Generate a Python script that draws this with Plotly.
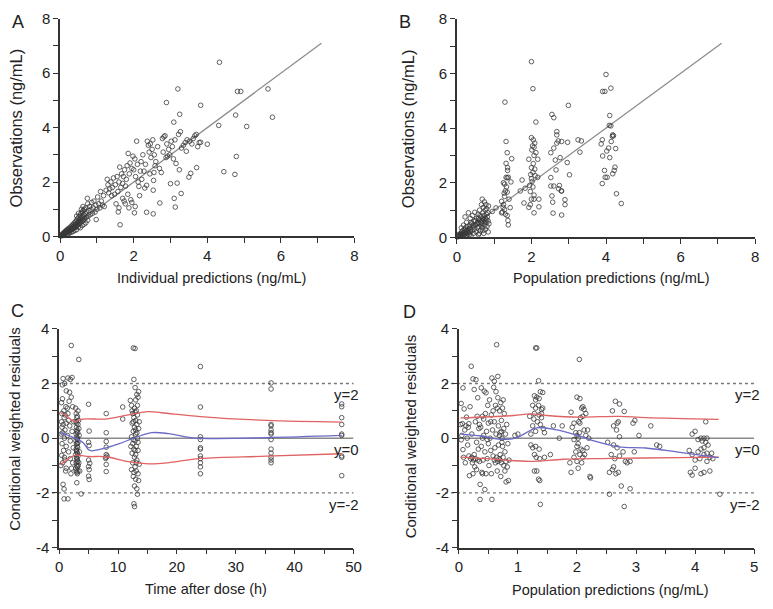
import plotly.graph_objects as go

# ---------------- DATA ----------------
# Panel A: individual predictions vs observations (ng/mL)
pts_A = [
    [0.02,0.02],[0.03,0.05],[0.05,0.03],[0.06,0.08],[0.07,0.05],[0.08,0.11],[0.09,0.07],[0.1,0.13],[0.11,0.09],[0.12,0.16],
    [0.13,0.1],[0.14,0.12],[0.15,0.2],[0.16,0.13],[0.17,0.17],[0.18,0.24],[0.19,0.15],[0.2,0.2],[0.21,0.27],[0.22,0.16],
    [0.23,0.22],[0.24,0.3],[0.25,0.19],[0.26,0.25],[0.27,0.33],[0.28,0.22],[0.29,0.28],[0.3,0.37],[0.31,0.24],[0.32,0.31],
    [0.33,0.42],[0.34,0.27],[0.35,0.35],[0.36,0.45],[0.37,0.3],[0.38,0.38],[0.39,0.5],[0.4,0.33],[0.41,0.42],[0.42,0.55],
    [0.43,0.36],[0.44,0.46],[0.45,0.6],[0.46,0.4],[0.47,0.5],[0.48,0.66],[0.49,0.44],[0.5,0.55],[0.51,0.72],[0.52,0.47],
    [0.53,0.6],[0.54,0.78],[0.55,0.5],[0.56,0.65],[0.57,0.85],[0.58,0.55],[0.59,0.7],[0.6,0.9],[0.61,0.58],[0.62,0.75],
    [0.63,0.95],[0.64,0.62],[0.65,0.8],[0.66,1.0],[0.67,0.66],[0.68,0.85],[0.7,1.05],[0.71,0.7],[0.72,0.9],[0.74,1.4],
    [0.75,1.2],[0.76,0.75],[0.78,0.95],[0.8,1.1],[0.82,0.8],[0.84,1.0],[0.86,1.25],[0.88,0.85],[0.9,1.05],[0.92,1.3],
    [0.95,0.9],[0.97,1.15],[0.98,0.62],[1.0,1.0],[1.02,1.45],[1.05,1.2],[1.08,1.05],[1.1,1.65],[1.12,1.3],[1.15,1.15],
    [1.18,1.5],[1.2,1.1],[0.3,0.15],[0.35,0.18],[0.4,0.22],[0.45,0.25],[0.5,0.35],[0.55,0.32],[0.6,0.4],[0.65,0.45],
    [0.25,0.12],[0.2,0.08],[0.15,0.05],[0.1,0.04],[0.58,1.0],[0.62,1.1],[0.5,0.85],[0.45,0.75],[0.7,0.5],[0.75,0.6],
    [1.25,1.7],[1.28,2.1],[1.3,1.9],[1.32,1.6],[1.35,1.75],[1.38,2.0],[1.4,1.5],[1.42,1.8],[1.45,2.15],[1.48,1.55],
    [1.5,1.9],[1.52,1.2],[1.55,2.2],[1.57,1.65],[1.58,0.9],[1.6,1.05],[1.6,2.0],[1.62,2.55],[1.63,0.43],[1.65,1.8],
    [1.67,2.3],[1.7,1.95],[1.7,1.4],[1.72,2.2],[1.74,1.3],[1.75,2.45],[1.77,1.2],[1.78,1.85],[1.8,2.1],[1.82,2.6],
    [1.84,1.55],[1.85,3.05],[1.87,1.05],[1.88,2.3],[1.9,2.7],[1.92,1.35],[1.95,1.25],[1.95,2.5],[1.98,2.95],[2.0,2.45],
    [2.02,0.87],[2.03,2.85],[2.04,1.1],[2.05,2.2],[2.08,3.5],[2.1,2.65],[2.12,2.0],[2.14,1.84],[2.16,1.5],[2.18,2.4],
    [2.2,2.75],[2.22,2.1],[2.25,3.0],[2.28,2.4],[2.3,1.78],[2.32,2.65],[2.35,1.88],[2.35,0.89],[2.37,3.5],[2.4,3.35],
    [2.42,3.1],[2.44,2.3],[2.45,3.4],[2.47,2.9],[2.5,3.2],[2.52,3.55],[2.53,1.7],[2.53,0.83],[2.54,2.06],[2.55,2.35],
    [2.56,3.0],[2.58,2.6],[2.6,2.75],[2.65,3.3],[2.7,2.5],[2.71,1.23],[2.75,2.35],[2.78,3.6],[2.8,3.1],[2.82,3.66],
    [2.85,3.7],[2.88,2.9],[2.89,4.92],[2.9,3.4],[2.92,2.95],[2.95,3.2],[2.98,3.0],[3.0,1.94],[3.02,3.5],[3.05,3.3],
    [3.08,2.85],[3.09,4.2],[3.1,1.4],[3.12,3.55],[3.13,1.08],[3.15,2.68],[3.18,1.96],[3.2,5.42],[3.22,3.75],[3.24,2.45],
    [3.25,4.49],[3.27,3.85],[3.29,1.58],[3.3,3.25],[3.35,3.35],[3.4,3.45],[3.43,3.13],[3.45,3.55],[3.5,2.18],[3.52,3.5],
    [3.55,2.32],[3.58,3.4],[3.62,3.6],[3.66,3.7],[3.7,3.75],[3.71,2.53],[3.74,3.3],[3.78,3.45],[3.82,4.82],[3.82,3.46],
    [4.0,3.39],[4.31,4.08],[4.33,6.40],[4.45,2.38],[4.75,2.28],[4.77,4.46],[4.79,2.94],[4.82,5.33],[4.91,5.33],[5.07,4.04],
    [5.65,5.42],[5.77,4.38],
]

# Panel B: population predictions vs observations (ng/mL)
pts_B = [
    [0.02,0.02],[0.03,0.06],[0.05,0.1],[0.06,0.04],[0.08,0.12],[0.09,0.07],[0.1,0.15],[0.11,0.05],[0.12,0.1],[0.13,0.2],
    [0.14,0.08],[0.15,0.13],[0.16,0.25],[0.17,0.1],[0.18,0.17],[0.19,0.05],[0.2,0.3],[0.21,0.12],[0.22,0.2],[0.23,0.35],
    [0.24,0.15],[0.25,0.25],[0.26,0.08],[0.27,0.4],[0.28,0.18],[0.29,0.28],[0.3,0.12],[0.31,0.9],[0.32,0.22],[0.33,0.33],
    [0.34,0.1],[0.35,0.45],[0.36,0.2],[0.37,0.3],[0.38,0.06],[0.4,0.5],[0.41,0.25],[0.42,0.8],[0.43,0.38],[0.45,0.15],
    [0.46,0.6],[0.47,0.3],[0.48,0.92],[0.5,0.45],[0.52,0.2],[0.53,0.7],[0.55,0.35],[0.56,0.55],[0.57,0.85],[0.58,0.1],
    [0.59,0.4],[0.6,0.65],[0.61,1.0],[0.62,0.5],[0.63,0.25],[0.64,0.75],[0.65,0.55],[0.66,1.2],[0.67,0.6],[0.68,1.4],
    [0.68,0.35],[0.69,0.7],[0.7,0.9],[0.7,0.5],[0.71,1.1],[0.72,0.65],[0.72,0.15],[0.73,0.8],[0.74,1.3],[0.74,0.45],
    [0.75,0.6],[0.76,1.0],[0.76,0.7],[0.77,0.3],[0.78,1.2],[0.78,0.55],[0.79,0.85],[0.8,0.65],[0.8,1.05],[0.81,0.4],
    [0.82,0.75],[0.83,0.9],[0.84,0.6],[0.85,1.15],[0.66,0.45],[0.62,0.8],[0.58,0.7],[0.54,0.5],[0.5,0.62],[0.44,0.45],
    [0.38,0.55],[0.36,0.7],[0.26,0.55],[0.22,0.75],[0.18,0.45],[0.12,0.35],[0.86,0.5],[0.84,0.2],[0.7,0.25],[0.6,0.15],
    [1.05,1.08],[0.95,0.95],
    [1.29,4.95],[1.32,3.51],[1.35,3.1],[1.47,2.88],[1.32,2.71],[1.36,2.55],[1.36,2.45],[1.32,2.2],[1.35,2.18],[1.38,2.2],
    [1.25,2.0],[1.28,1.95],[1.3,1.7],[1.27,1.62],[1.35,1.66],[1.28,1.5],[1.2,1.32],[1.25,1.2],[1.28,1.02],[1.22,0.93],
    [1.35,0.8],[1.37,0.62],[1.38,0.46],[1.43,1.09],[1.45,2.03],[1.2,0.9],[1.3,0.85],[1.4,1.4],[1.33,1.85],[1.24,1.1],
    [2.0,6.43],[2.04,5.44],[2.12,4.22],[2.0,3.65],[2.05,3.57],[2.09,3.45],[2.03,3.35],[2.07,3.3],[2.01,3.2],[2.12,3.1],
    [2.07,3.0],[1.93,2.86],[2.17,2.86],[2.0,2.55],[2.09,2.5],[2.04,2.38],[2.1,2.26],[2.0,2.15],[2.17,2.2],[1.95,1.9],
    [2.04,1.85],[1.97,1.68],[2.07,1.55],[2.0,1.4],[1.97,1.2],[1.93,1.1],[2.07,1.4],[2.07,0.9],[2.2,1.4],[2.2,1.12],
    [1.83,1.8],[1.8,1.26],[2.02,2.05],[2.05,2.7],[1.98,2.3],[1.75,2.1],[1.7,1.7],
    [2.55,4.5],[2.6,4.38],[2.68,3.87],[2.68,3.75],[2.72,3.53],[2.68,3.45],[2.81,3.51],[2.52,3.1],[2.6,3.27],[2.64,2.83],
    [2.77,2.92],[2.66,2.47],[2.52,2.19],[2.6,1.88],[2.75,1.9],[2.73,1.78],[2.8,1.7],[2.52,1.88],[2.55,1.52],[2.57,1.29],
    [2.9,1.38],[2.9,1.2],[2.81,1.7],[2.58,0.89],[2.81,0.82],[2.96,2.74],[2.97,3.48],[2.99,4.83],[3.02,2.29],
    [3.25,3.57],[3.34,3.53],[3.3,3.12],
    [3.9,1.97],[3.87,3.42],[3.9,3.57],[3.91,2.98],[3.96,2.45],[3.98,2.2],[4.03,2.2],[4.0,5.96],[3.91,5.34],[3.97,5.34],
    [4.13,5.46],[4.1,4.46],[4.09,4.1],[4.13,4.08],[4.02,3.16],[4.07,3.27],[4.1,2.92],[4.14,3.51],[4.18,3.75],[4.2,3.72],
    [4.17,3.7],[4.18,2.33],[4.22,2.45],[4.24,2.57],[4.26,3.25],[4.28,1.6],[4.41,1.24],
]

# Panel C: time after dose (h) vs conditional weighted residuals
pts_C = [
    [2.06,3.39],[0.67,2.18],[1.5,2.2],[1.9,2.15],[2.2,2.22],[0.55,1.95],[0.95,2.0],[1.22,1.73],[1.78,1.68],[2.06,1.5],
    [0.56,1.44],[1.15,1.15],[2.3,1.15],[1.4,1.1],[0.8,1.0],[0.45,0.9],[1.0,0.85],[0.85,0.75],[1.6,0.65],[0.4,0.6],
    [1.2,0.55],[0.7,0.5],[1.8,0.45],[0.5,0.4],[1.0,0.3],[2.2,0.25],[0.6,0.2],[1.4,0.1],[0.9,0.0],[1.9,-0.1],
    [0.5,-0.2],[1.2,-0.3],[2.4,-0.35],[0.75,-0.45],[1.6,-0.5],[0.45,-0.63],[0.9,-0.7],[1.0,-0.8],[1.9,-0.75],[2.3,-0.9],
    [0.3,-1.0],[1.2,-1.1],[1.1,-1.2],[2.0,-1.3],[0.67,-1.69],[0.84,-1.86],[0.84,-2.22],[1.5,-2.22],[0.6,-0.9],[1.5,0.9],
    [0.35,0.15],[2.5,0.6],[2.1,-1.1],[0.4,1.3],[1.7,1.35],
    [2.8,1.1],[2.9,0.9],[3.0,0.75],[3.1,0.8],[2.85,0.6],[3.2,0.5],[2.95,0.4],[3.05,0.3],[3.15,0.2],[2.9,0.15],
    [3.0,0.05],[3.1,-0.05],[2.85,-0.1],[3.2,-0.15],[2.95,-0.2],[3.05,-0.3],[3.15,-0.35],[2.9,-0.4],[3.0,-0.5],[3.1,-0.55],
    [2.8,-0.6],[3.2,-0.65],[2.95,-0.7],[3.05,-0.8],[3.15,-0.85],[2.9,-0.9],[3.0,-1.0],[3.1,-1.05],[2.85,-1.1],[3.2,-1.2],
    [3.0,-1.25],[3.1,-1.3],[3.0,-1.63],[3.34,2.88],[3.73,-2.04],[3.3,0.65],[3.4,0.1],[3.45,-0.5],[3.5,-1.2],[3.35,-0.9],
    [3.0,0.55],[3.1,0.0],[2.95,-0.45],[3.05,-0.75],[3.0,0.25],[3.1,-0.2],[2.9,-1.2],[3.2,1.0],[3.25,-1.0],[3.35,0.35],
    [5.0,1.24],[5.1,0.26],[5.0,-0.15],[5.1,-0.27],[5.0,-0.8],[5.2,-0.92],[5.0,-1.04],[5.1,-1.15],[5.0,-1.39],[5.1,-1.51],
    [8.0,0.9],[8.0,0.2],[8.0,-0.12],[8.0,-0.33],[8.0,-0.6],[8.15,-0.65],[8.0,-0.7],[7.9,-0.74],[8.0,-0.96],[8.0,-1.22],
    [10.8,1.14],[10.8,0.7],
    [12.6,3.3],[12.9,3.28],[12.7,2.15],[12.1,1.38],[13.2,1.6],[13.4,1.5],[12.9,1.85],[13.5,1.7],[12.3,1.2],[12.8,1.1],
    [13.1,1.0],[12.5,0.9],[13.3,0.85],[12.7,0.75],[13.0,0.65],[12.4,0.55],[13.2,0.5],[12.8,0.4],[13.5,0.35],[12.6,0.25],
    [13.0,0.15],[12.3,0.05],[13.3,0.0],[12.9,-0.1],[12.5,-0.2],[13.1,-0.3],[12.7,-0.4],[13.4,-0.45],[12.4,-0.55],[13.0,-0.6],
    [12.8,-0.7],[13.2,-0.8],[12.5,-0.9],[13.6,-0.95],[12.9,-1.05],[12.3,-1.15],[13.1,-1.2],[12.7,-1.25],[13.4,-1.3],[12.6,-1.4],
    [13.0,-1.5],[13.5,-1.55],[12.8,-1.75],[13.2,-1.85],[13.3,-2.05],[12.7,-2.4],[12.8,-2.5],[13.0,0.3],[12.6,-0.05],[13.3,1.2],
    [12.9,0.95],[13.1,-0.9],[12.4,1.0],[13.6,0.6],[12.2,-0.3],[13.4,-0.15],[12.6,0.6],[13.2,0.2],[12.9,-0.45],[13.0,1.4],
    [24.0,2.62],[24.0,1.14],[24.0,0.05],[24.0,-0.05],[24.0,-0.35],[24.0,-0.4],[24.0,-0.65],[24.0,-0.75],[24.0,-0.9],[24.0,-1.05],
    [24.0,-1.3],
    [36.0,2.02],[36.0,1.8],[36.0,0.5],[36.0,0.45],[36.0,0.3],[36.0,0.2],[36.0,0.15],[36.0,-0.05],[36.0,-0.4],[36.0,-0.55],
    [36.0,-0.7],[36.0,-0.8],[36.0,-0.9],
    [48.0,1.25],[48.0,1.15],[48.0,0.75],[48.0,0.5],[48.0,0.15],[48.0,0.1],[48.0,-0.65],[48.0,-0.7],[48.0,-1.37],
]

# Panel D: population predictions (ng/mL) vs conditional weighted residuals
pts_D = [
    [0.03,0.5],[0.04,1.27],[0.04,-0.06],[0.05,0.1],[0.06,0.53],[0.07,1.84],[0.07,-0.42],[0.08,-0.7],[0.09,1.07],[0.1,0.3],
    [0.11,-0.9],[0.12,0.45],[0.13,0.77],[0.14,0.0],[0.15,-0.25],[0.16,0.4],[0.17,0.53],[0.17,-0.65],[0.18,-1.37],[0.19,1.15],
    [0.2,-0.75],[0.21,2.63],[0.22,0.15],[0.23,-0.9],[0.24,2.17],[0.24,-1.3],[0.25,-0.8],[0.26,1.78],[0.26,-0.6],[0.27,-1.05],
    [0.28,0.6],[0.29,2.14],[0.3,-0.15],[0.3,-1.15],[0.31,0.8],[0.32,1.48],[0.33,-0.4],[0.34,0.35],[0.35,0.5],[0.35,-0.85],
    [0.36,-1.69],[0.36,-2.24],[0.37,0.4],[0.38,1.84],[0.38,-0.3],[0.39,-1.25],[0.4,0.0],[0.4,0.8],[0.41,-0.8],[0.42,0.1],
    [0.43,1.72],[0.44,-1.88],[0.44,-0.5],[0.45,0.9],[0.46,1.66],[0.46,-1.3],[0.47,0.25],[0.48,-0.75],[0.49,1.2],[0.5,-0.2],
    [0.5,0.55],[0.51,-1.0],[0.52,1.4],[0.53,0.0],[0.54,-0.45],[0.55,0.85],[0.55,-1.3],[0.56,2.2],[0.56,-2.24],[0.57,0.3],
    [0.58,-0.65],[0.59,1.86],[0.6,2.08],[0.6,0.6],[0.61,-0.35],[0.62,-0.9],[0.63,1.7],[0.63,0.15],[0.64,3.42],[0.64,-0.7],
    [0.65,1.1],[0.65,-1.2],[0.66,2.26],[0.66,1.48],[0.67,0.45],[0.67,-0.25],[0.68,-0.75],[0.69,1.0],[0.7,0.2],[0.7,-0.6],
    [0.71,1.3],[0.71,-1.4],[0.72,0.65],[0.72,-0.9],[0.73,0.0],[0.74,-0.3],[0.74,1.1],[0.75,-0.7],[0.76,0.35],[0.76,-1.0],
    [0.77,0.9],[0.78,-0.5],[0.78,-1.2],[0.79,0.15],[0.8,-0.85],[0.8,-1.6],[0.81,0.5],[0.82,-1.05],[0.83,-0.2],[0.84,-1.55],
    [0.85,-0.8],[0.72,0.25],[0.69,0.1],[0.73,-0.15],[0.75,1.4],[0.62,1.2],[0.58,1.0],[0.54,0.6],[0.48,-0.05],[0.42,0.7],
    [0.4,-1.3],[0.28,-0.75],[0.32,-0.8],[0.22,-0.7],[0.66,-0.85],[0.7,-0.8],[0.6,-0.8],
    [1.0,0.15],[0.95,0.1],[1.6,0.45],[1.55,-0.6],[1.7,0.0],[1.75,0.45],
    [1.27,0.7],[1.3,3.3],[1.32,3.3],[1.35,2.1],[1.28,1.55],[1.32,1.5],[1.36,1.45],[1.3,1.4],[1.38,1.7],[1.42,1.67],
    [1.25,1.2],[1.3,1.1],[1.35,1.2],[1.4,1.05],[1.28,0.9],[1.36,0.85],[1.4,0.75],[1.33,0.6],[1.38,0.5],[1.43,0.35],
    [1.25,0.45],[1.3,0.25],[1.22,-0.25],[1.25,-0.35],[1.28,-0.6],[1.31,-0.7],[1.3,-0.3],[1.36,-0.4],[1.37,-0.75],[1.28,-1.2],
    [1.32,-1.2],[1.35,-1.5],[1.37,-1.55],[1.38,-2.42],[1.45,-0.7],[1.2,0.8],[1.22,0.15],[1.45,0.2],[1.42,1.1],[1.4,0.9],
    [2.04,2.88],[2.0,1.5],[2.05,1.45],[1.9,0.95],[1.95,0.55],[1.92,0.4],[1.88,-0.9],[1.9,-1.25],[1.95,-0.7],[1.98,-0.5],
    [2.0,-0.3],[2.02,0.0],[2.04,0.2],[2.05,0.55],[2.06,0.75],[2.08,1.1],[2.1,1.15],[2.12,1.05],[2.1,0.8],[2.15,0.9],
    [2.12,0.3],[2.15,0.1],[2.18,0.3],[2.2,0.0],[2.0,0.1],[1.98,0.2],[2.02,-0.2],[2.07,-0.4],[2.1,-0.45],[2.13,-0.6],
    [2.17,-0.35],[2.05,-0.6],[2.0,-0.85],[2.02,-1.1],[2.08,-0.9],[2.22,-1.4],[2.23,-1.45],[2.1,-0.7],[1.95,-0.05],[2.03,0.6],
    [2.55,-2.05],[2.6,1.0],[2.65,1.35],[2.72,1.25],[2.8,0.98],[2.62,0.45],[2.68,0.55],[2.7,0.6],[2.67,0.3],[2.72,0.05],
    [2.62,-0.25],[2.68,-0.35],[2.58,-0.6],[2.64,-0.75],[2.72,-0.65],[2.78,-0.5],[2.82,-0.85],[2.85,-0.9],[2.9,-0.85],[2.55,-1.25],
    [2.6,-1.15],[2.62,-1.05],[2.7,-1.25],[2.66,-1.3],[2.75,-1.75],[2.8,-2.5],[2.9,-1.85],[2.95,0.55],[2.97,-0.5],[2.98,0.65],
    [3.05,0.1],[3.25,0.45],[3.35,-0.25],[3.4,-0.3],[2.52,-0.15],
    [3.95,0.15],[4.0,0.25],[4.05,-0.05],[4.1,0.0],[4.12,-0.1],[4.15,0.0],[4.18,-0.15],[4.2,0.0],[3.9,-0.45],[3.95,-0.6],
    [4.05,-0.5],[4.1,-0.4],[4.15,-0.6],[4.2,-0.55],[4.25,-0.7],[4.28,-0.55],[4.0,-0.8],[4.08,-0.75],[4.2,-0.85],[3.92,-1.25],
    [3.95,-1.35],[4.0,-1.1],[4.1,-1.3],[4.15,-1.25],[4.25,-1.2],[4.18,0.6],[4.3,-0.75],[4.42,-2.05],[4.15,-0.35],[4.22,-0.25],
]

# identity lines (A, B)
identity_x = [0, 7.1]
identity_y = [0, 7.1]

# Panel C smooth lines (time, value)
C_upper_t = [0.2, 1.0, 2.6, 4.0, 7.9, 11.8, 15.1, 17.4, 24.0, 35.2, 48.0]
C_upper_v = [0.93, 0.85, 0.61, 0.70, 0.70, 0.85, 0.97, 0.93, 0.79, 0.65, 0.59]
C_lower_t = [0.2, 1.0, 2.6, 5.1, 7.9, 11.8, 15.4, 18.5, 24.0, 35.2, 48.0]
C_lower_v = [-0.96, -0.85, -0.63, -0.67, -0.68, -0.86, -0.94, -0.90, -0.74, -0.66, -0.57]
C_mid_t = [0.2, 1.8, 4.0, 5.2, 7.3, 10.1, 12.9, 15.7, 18.5, 22.4, 24.0, 35.2, 48.0]
C_mid_v = [0.20, 0.08, -0.15, -0.45, -0.39, -0.21, 0.02, 0.20, 0.17, 0.02, -0.01, 0.02, 0.10]

# Panel D smooth lines (pred, value)
D_upper_p = [0.03, 0.93, 1.21, 1.49, 2.04, 2.71, 3.16, 4.4]
D_upper_v = [0.74, 0.83, 0.89, 0.83, 0.77, 0.80, 0.75, 0.69]
D_lower_p = [0.03, 0.6, 1.21, 1.77, 2.6, 3.71, 4.4]
D_lower_v = [-0.69, -0.77, -0.85, -0.77, -0.74, -0.71, -0.69]
D_mid_p = [0.03, 0.38, 0.71, 0.96, 1.32, 1.66, 2.04, 2.32, 2.71, 3.16, 3.71, 4.4]
D_mid_v = [0.15, 0.08, -0.04, 0.0, 0.38, 0.30, 0.08, -0.12, -0.32, -0.36, -0.51, -0.71]

ref_levels = [2, 0, -2]
ref_labels = ["y=2", "y=0", "y=-2"]

# ---------------- FIGURE ----------------
W, H = 773, 609
FONT = "Liberation Sans, Arial, sans-serif"
AX_COLOR = "#333333"
MARK = dict(symbol="circle-open", size=4.6, color="rgba(55,55,55,0.78)", line=dict(width=1))

def px_dom(a, b):
    return [a / W, b / W]

def py_dom(top, bottom):
    return [1 - bottom / H, 1 - top / H]

fig = go.Figure()

def scatter(pts, xa, ya):
    fig.add_trace(go.Scatter(x=[p[0] for p in pts], y=[p[1] for p in pts], mode="markers",
                             marker=MARK, xaxis=xa, yaxis=ya, cliponaxis=False, showlegend=False,
                             hoverinfo="x+y"))

def line(xs, ys, xa, ya, color, width=1.3):
    fig.add_trace(go.Scatter(x=xs, y=ys, mode="lines", line=dict(color=color, width=width, shape="spline"),
                             xaxis=xa, yaxis=ya, showlegend=False, hoverinfo="skip", cliponaxis=False))

# zero reference lines in C and D
for xa, ya, xmax in (("x3", "y3", 50), ("x4", "y4", 5)):
    fig.add_trace(go.Scatter(x=[0, xmax], y=[0, 0], mode="lines", line=dict(color="#8a8a8a", width=1.4),
                             xaxis=xa, yaxis=ya, showlegend=False, hoverinfo="skip"))

line(identity_x, identity_y, "x", "y", "#8c8c8c", 1.3)
scatter(pts_A, "x", "y")
line(identity_x, identity_y, "x2", "y2", "#8c8c8c", 1.3)
scatter(pts_B, "x2", "y2")

scatter(pts_C, "x3", "y3")
line(C_upper_t, C_upper_v, "x3", "y3", "#e06262")
line(C_lower_t, C_lower_v, "x3", "y3", "#e06262")
line(C_mid_t, C_mid_v, "x3", "y3", "#6a6ac8")

scatter(pts_D, "x4", "y4")
line(D_upper_p, D_upper_v, "x4", "y4", "#e06262")
line(D_lower_p, D_lower_v, "x4", "y4", "#e06262")
line(D_mid_p, D_mid_v, "x4", "y4", "#6a6ac8")

def axis(dom, rng, major, minor, anchor, labels=None):
    return dict(domain=dom, range=rng, anchor=anchor, showgrid=False, zeroline=False,
                showline=True, linecolor=AX_COLOR, linewidth=1.5, ticks="outside", ticklen=5,
                tickwidth=1.2, tickcolor=AX_COLOR, tickvals=major,
                ticktext=labels if labels else [str(v) for v in major],
                tickfont=dict(family=FONT, size=15, color="#222222"),
                minor=dict(tickvals=minor, ticks="outside", ticklen=5, tickwidth=1.2,
                           tickcolor=AX_COLOR, showgrid=False),
                fixedrange=True)

ABx, ABy = [0, 2, 4, 6, 8], [0, 2, 4, 6, 8]
AB_minor = [1, 3, 5, 7]
resid_major = [-4, -2, 0, 2, 4]
resid_minor = [-3, -1, 1, 3]

fig.update_layout(
    width=W, height=H, margin=dict(l=0, r=0, t=0, b=0),
    paper_bgcolor="white", plot_bgcolor="white",
    xaxis=axis(px_dom(57, 356), [0, 8], ABx, AB_minor, "y"),
    yaxis=axis(py_dom(10, 234), [0, 8], ABy, AB_minor, "x"),
    xaxis2=axis(px_dom(460, 763), [0, 8], ABx, AB_minor, "y2"),
    yaxis2=axis(py_dom(10, 235), [0, 8], ABy, AB_minor, "x2"),
    xaxis3=axis(px_dom(56, 355), [0, 50], [0, 10, 20, 30, 40, 50], [5, 15, 25, 35, 45], "y3"),
    yaxis3=axis(py_dom(329, 554), [-4, 4], resid_major, resid_minor, "x3", ["-4", "-2", "0", "2", "4"]),
    xaxis4=axis(px_dom(462, 762), [0, 5], [0, 1, 2, 3, 4, 5], [0.5, 1.5, 2.5, 3.5, 4.5], "y4"),
    yaxis4=axis(py_dom(329, 554), [-4, 4], resid_major, resid_minor, "x4", ["-4", "-2", "0", "2", "4"]),
)

# dotted reference lines at +/-2 (extend a bit left of the y axis)
for xr, yr, left in (("x3 domain", "y3", -0.045), ("x4 domain", "y4", -0.047)):
    for lv in (2, -2):
        fig.add_shape(type="line", xref=xr, yref=yr, x0=left, x1=1.0, y0=lv, y1=lv,
                      line=dict(color="#777777", width=1.3, dash="dot"), layer="below")

annos = []
for xr, yr, xr_pos in (("x3 domain", "y3", 1.027), ("x4 domain", "y4", 1.027)):
    for lv, lab in zip(ref_levels, ref_labels):
        annos.append(dict(text=lab, xref=xr, yref=yr, x=xr_pos, y=lv, xanchor="right", yanchor="top",
                          yshift=-1, showarrow=False, font=dict(family=FONT, size=15, color="#222222")))

def pann(text, x, y, size=13, angle=0):
    annos.append(dict(text=text, xref="paper", yref="paper", x=x / W, y=1 - y / H,
                      xanchor="center", yanchor="middle", showarrow=False, textangle=angle,
                      font=dict(family=FONT, size=size, color="#222222")))

# axis titles
pann("Individual predictions (ng/mL)", 211, 277, 14.5)
pann("Population predictions (ng/mL)", 617, 277, 14.5)
pann("Time after dose (h)", 205, 597, 14.5)
pann("Population predictions (ng/mL)", 616, 598, 14.5)
pann("Observations (ng/mL)", 12, 122, 16.5, -90)
pann("Observations (ng/mL)", 410, 123, 16.5, -90)
pann("Conditional weighted residuals", 11, 432, 15, -90)
pann("Conditional weighted residuals", 413, 440, 15, -90)
# panel letters
pann("A", 14, 13, 18)
pann("B", 407, 13, 18)
pann("C", 14, 311, 18)
pann("D", 412, 312, 18)

fig.update_layout(annotations=annos)
# remove the page's default body margin so the figure sits exactly in the window
fig.write_html("out.html", config={"displayModeBar": False},
               post_script="document.body.style.margin='0';document.documentElement.style.overflow='hidden';")
